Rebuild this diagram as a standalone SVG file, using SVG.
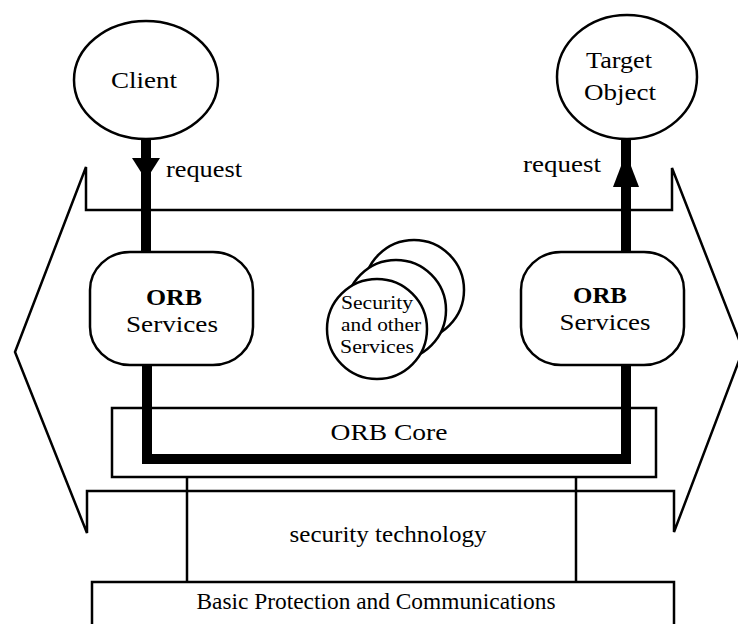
<svg xmlns="http://www.w3.org/2000/svg" width="738" height="624" viewBox="0 0 738 624">
<style>
.s{fill:none;stroke:#000;stroke-width:2.5}
.w{fill:#fff;stroke:#000;stroke-width:2.5}
.t{font-family:"Liberation Serif","Times New Roman",serif;font-size:24px;fill:#000}
.c{text-anchor:middle}
.b{font-weight:bold}
.sm{font-size:18px}
.thick{fill:none;stroke:#000;stroke-width:10}
</style>
<rect width="738" height="624" fill="#fff"/>
<g id="frame">
<path class="s" d="M86,167 V210 H672 V168 L743,350 L674,532 V491 H87 V533 L15,352 Z"/>
</g>
<g id="security-technology">
<text class="t c" x="388" y="542" textLength="197" lengthAdjust="spacingAndGlyphs">security technology</text>
</g>
<g id="basic-protection">
<rect class="s" x="92" y="582" width="582" height="60"/>
<text class="t c" x="376" y="609" textLength="359" lengthAdjust="spacingAndGlyphs">Basic Protection and Communications</text>
</g>
<g id="orb-core">
<rect class="s" x="112" y="408" width="544" height="69"/>
<text class="t c" x="389" y="440" textLength="117" lengthAdjust="spacingAndGlyphs">ORB Core</text>
</g>
<g id="client">
<ellipse class="w" cx="146" cy="80" rx="72" ry="59"/>
<text class="t c" x="144" y="88" font-size="25" textLength="66" lengthAdjust="spacingAndGlyphs">Client</text>
</g>
<g id="target-object">
<ellipse class="w" cx="627" cy="77" rx="70" ry="62"/>
<text class="t c" x="619" y="68" textLength="66" lengthAdjust="spacingAndGlyphs">Target</text>
<text class="t c" x="620" y="100" textLength="72" lengthAdjust="spacingAndGlyphs">Object</text>
</g>
<g id="connectors">
<path class="thick" d="M146,140 V252"/>
<polygon points="132,158 160,158 146,180" fill="#000"/>
<path class="thick" d="M626,252 V140"/>
<polygon points="626,153 639,187 613,187" fill="#000"/>
<path class="thick" d="M147,365 V459 H626 V365" stroke-linejoin="miter"/>
<path class="s" d="M187,477 V582"/>
<path class="s" d="M576,477 V582"/>
<text class="t" x="166" y="177" textLength="76" lengthAdjust="spacingAndGlyphs">request</text>
<text class="t" x="523" y="172" textLength="78" lengthAdjust="spacingAndGlyphs">request</text>
</g>
<g id="orb-services-left">
<rect class="w" x="90" y="252" width="163" height="113" rx="40" ry="38"/>
<text class="t c b" x="174" y="305" textLength="56" lengthAdjust="spacingAndGlyphs">ORB</text>
<text class="t c" x="172" y="332" textLength="92" lengthAdjust="spacingAndGlyphs">Services</text>
</g>
<g id="orb-services-right">
<rect class="w" x="521" y="252" width="163" height="113" rx="40" ry="38"/>
<text class="t c b" x="600" y="303" textLength="54" lengthAdjust="spacingAndGlyphs">ORB</text>
<text class="t c" x="605" y="330" textLength="91" lengthAdjust="spacingAndGlyphs">Services</text>
</g>
<g id="security-services">
<circle class="w" cx="414" cy="290" r="50"/>
<circle class="w" cx="396" cy="310" r="50"/>
<circle class="w" cx="377" cy="329" r="50"/>
<text class="t c sm" x="377" y="309" textLength="72" lengthAdjust="spacingAndGlyphs">Security</text>
<text class="t c sm" x="381" y="331" textLength="80" lengthAdjust="spacingAndGlyphs">and other</text>
<text class="t c sm" x="377" y="353" textLength="74" lengthAdjust="spacingAndGlyphs">Services</text>
</g>
</svg>
